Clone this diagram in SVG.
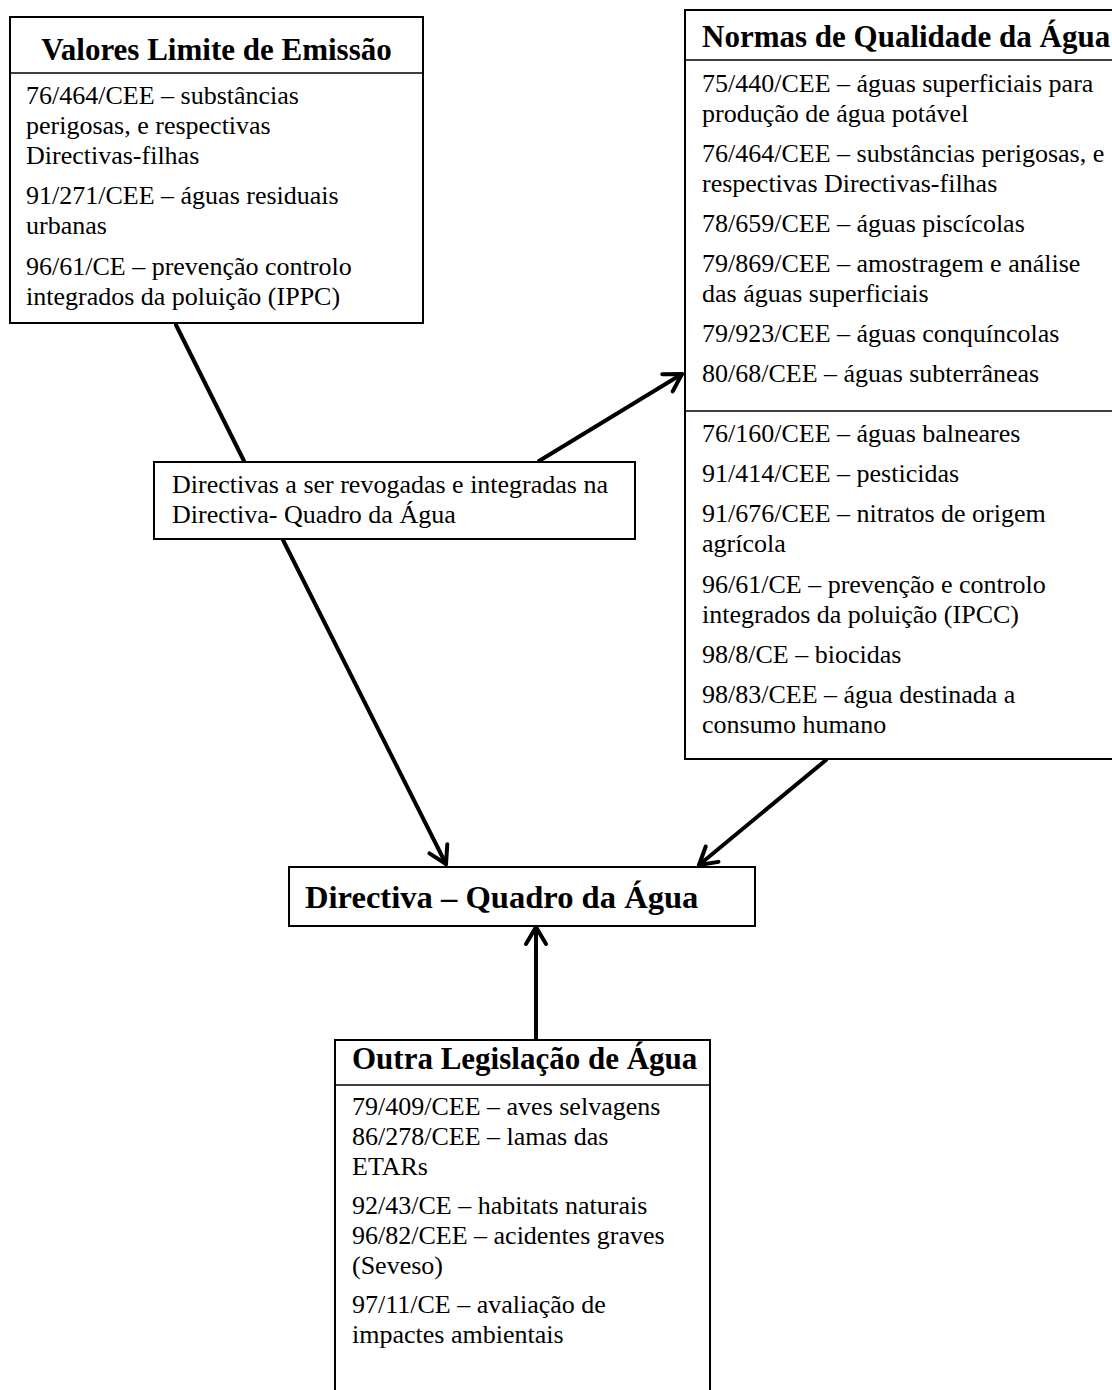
<svg xmlns="http://www.w3.org/2000/svg" width="1112" height="1390" viewBox="0 0 1112 1390">
<style>
.box{fill:#fff;stroke:#000;stroke-width:2}
.div{stroke:#000;stroke-width:1.6}
.t{font-family:"Liberation Serif","Times New Roman",serif;font-size:26px;fill:#000}
.h{font-family:"Liberation Serif","Times New Roman",serif;font-size:31px;font-weight:bold;fill:#000}
.c{fill:none;stroke:#000;stroke-width:4;stroke-linecap:round}
</style>
<defs>
<marker id="arr" markerUnits="userSpaceOnUse" markerWidth="40" markerHeight="40" viewBox="-20 -20 40 40" refX="0" refY="0" orient="auto" overflow="visible">
<path d="M-17,-10 L0,0 L-17,10" fill="none" stroke="#000" stroke-width="4" stroke-linecap="round" stroke-linejoin="round"/>
</marker>
</defs>
<rect width="1112" height="1390" fill="#fff"/>
<g id="connectors">
<line class="c" x1="176" y1="325" x2="244" y2="461"/>
<line class="c" x1="283" y1="540" x2="446" y2="864" marker-end="url(#arr)"/>
<line class="c" x1="539" y1="461" x2="682" y2="374" marker-end="url(#arr)"/>
<line class="c" x1="826" y1="760" x2="699" y2="865" marker-end="url(#arr)"/>
<line class="c" x1="536" y1="1039" x2="536" y2="927" marker-end="url(#arr)"/>
</g>
<g id="valores">
<rect class="box" x="10" y="17" width="413" height="306"/>
<line class="div" x1="10" y1="73" x2="423" y2="73"/>
<text class="h" x="216.5" y="60" text-anchor="middle">Valores Limite de Emissão</text>
<text class="t" x="26" y="104">76/464/CEE – substâncias</text>
<text class="t" x="26" y="134">perigosas, e respectivas</text>
<text class="t" x="26" y="164">Directivas-filhas</text>
<text class="t" x="26" y="204">91/271/CEE – águas residuais</text>
<text class="t" x="26" y="234">urbanas</text>
<text class="t" x="26" y="275">96/61/CE – prevenção controlo</text>
<text class="t" x="26" y="305">integrados da poluição (IPPC)</text>
</g>
<g id="normas">
<rect class="box" x="685" y="10" width="460" height="749"/>
<line class="div" x1="685" y1="60" x2="1112" y2="60"/>
<line class="div" x1="685" y1="411" x2="1112" y2="411"/>
<text class="h" x="702" y="47">Normas de Qualidade da Água</text>
<text class="t" x="702" y="92">75/440/CEE – águas superficiais para</text>
<text class="t" x="702" y="122">produção de água potável</text>
<text class="t" x="702" y="162">76/464/CEE – substâncias perigosas, e</text>
<text class="t" x="702" y="192">respectivas Directivas-filhas</text>
<text class="t" x="702" y="232">78/659/CEE – águas piscícolas</text>
<text class="t" x="702" y="272">79/869/CEE – amostragem e análise</text>
<text class="t" x="702" y="302">das águas superficiais</text>
<text class="t" x="702" y="342">79/923/CEE – águas conquíncolas</text>
<text class="t" x="702" y="382">80/68/CEE – águas subterrâneas</text>
<text class="t" x="702" y="442">76/160/CEE – águas balneares</text>
<text class="t" x="702" y="482">91/414/CEE – pesticidas</text>
<text class="t" x="702" y="522">91/676/CEE – nitratos de origem</text>
<text class="t" x="702" y="552">agrícola</text>
<text class="t" x="702" y="593">96/61/CE – prevenção e controlo</text>
<text class="t" x="702" y="623">integrados da poluição (IPCC)</text>
<text class="t" x="702" y="663">98/8/CE – biocidas</text>
<text class="t" x="702" y="703">98/83/CEE – água destinada a</text>
<text class="t" x="702" y="733">consumo humano</text>
</g>
<g id="revogadas">
<rect class="box" x="154" y="462" width="481" height="77"/>
<text class="t" x="172" y="493">Directivas a ser revogadas e integradas na</text>
<text class="t" x="172" y="523">Directiva- Quadro da Água</text>
</g>
<g id="dqa">
<rect class="box" x="289" y="867" width="466" height="59"/>
<text class="h" x="305" y="908" style="font-size:32.6px">Directiva – Quadro da Água</text>
</g>
<g id="outra">
<rect class="box" x="335" y="1040" width="375" height="380"/>
<line class="div" x1="335" y1="1085" x2="710" y2="1085"/>
<text class="h" x="352" y="1069">Outra Legislação de Água</text>
<text class="t" x="352" y="1115">79/409/CEE – aves selvagens</text>
<text class="t" x="352" y="1145">86/278/CEE – lamas das</text>
<text class="t" x="352" y="1175">ETARs</text>
<text class="t" x="352" y="1214">92/43/CE – habitats naturais</text>
<text class="t" x="352" y="1244">96/82/CEE – acidentes graves</text>
<text class="t" x="352" y="1274">(Seveso)</text>
<text class="t" x="352" y="1313">97/11/CE – avaliação de</text>
<text class="t" x="352" y="1343">impactes ambientais</text>
</g>
</svg>
